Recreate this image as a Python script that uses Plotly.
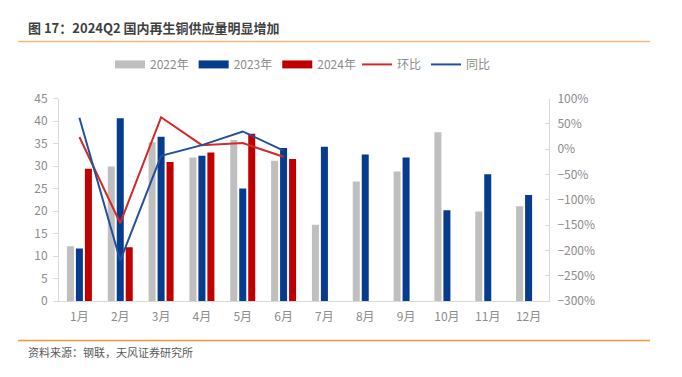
import plotly.graph_objects as go

months = ["1月", "2月", "3月", "4月", "5月", "6月", "7月", "8月", "9月", "10月", "11月", "12月"]
v2022 = [12.2, 29.9, 35.3, 31.9, 35.8, 31.2, 17.0, 26.6, 28.8, 37.5, 19.9, 21.1]
v2023 = [11.7, 40.6, 36.5, 32.3, 25.0, 34.0, 34.3, 32.6, 31.9, 20.2, 28.2, 23.6]
v2024 = [29.4, 12.0, 30.9, 33.0, 37.2, 31.6, None, None, None, None, None, None]
mom = [24, -146, 63, 8, 12, -15]     # 环比 %
yoy = [62, -220, -13, 8, 35, -3]     # 同比 %

C_GREY = "#BFBFBF"
C_BLUE = "#053C8E"
C_RED = "#C00000"
L_RED = "#D42A2A"
L_BLUE = "#22509C"
FONT = "Noto Sans CJK SC"
TICK_C = "#8C8C8C"

W, H = 682, 377
fig = go.Figure()

for name, vals, col in [("2022年", v2022, C_GREY), ("2023年", v2023, C_BLUE), ("2024年", v2024, C_RED)]:
    fig.add_trace(go.Bar(x=months, y=vals, name=name, marker=dict(color=col, line=dict(width=0)),
                         showlegend=False, hoverinfo="skip"))

fig.add_trace(go.Scatter(x=months[:6], y=mom, yaxis="y2", mode="lines", name="环比",
                         line=dict(color=L_RED, width=2), showlegend=False))
fig.add_trace(go.Scatter(x=months[:6], y=yoy, yaxis="y2", mode="lines", name="同比",
                         line=dict(color=L_BLUE, width=2), showlegend=False))

for name, col, w, lg in [("2022年", C_GREY, 8, "legend"), ("2023年", C_BLUE, 8, "legend"),
                         ("2024年", C_RED, 8, "legend"), ("环比", L_RED, 2, "legend2"),
                         ("同比", L_BLUE, 2, "legend2")]:
    fig.add_trace(go.Scatter(x=[None], y=[None], mode="lines", name=name, legend=lg,
                             line=dict(color=col, width=w), showlegend=True))

def px_x(p):
    return p / W

def px_y(p):
    return (H - p) / H

legend_common = dict(orientation="h", y=px_y(57), xanchor="left", yanchor="middle",
                     font=dict(size=12, color=TICK_C), itemwidth=30,
                     bgcolor="rgba(0,0,0,0)", traceorder="normal")

fig.update_layout(
    width=W, height=H,
    margin=dict(l=0, r=0, t=0, b=0),
    paper_bgcolor="white", plot_bgcolor="white",
    font=dict(family=FONT, size=12, color=TICK_C),
    barmode="group", bargap=0.34, bargroupgap=0.22,
    xaxis=dict(domain=[px_x(59), px_x(549)], type="category", showgrid=False,
               showline=True, linecolor="#D9D9D9", linewidth=1, ticks="",
               tickfont=dict(size=12, color=TICK_C), ticklabelstandoff=4),
    yaxis=dict(domain=[px_y(305), px_y(92.7)], range=[0, 45], dtick=5, showgrid=False,
               showline=True, linecolor="#D9D9D9", linewidth=1, ticks="outside", ticklen=5,
               tickcolor="#D9D9D9", tickfont=dict(size=12, color=TICK_C), zeroline=False,
               ticklabelstandoff=3),
    yaxis2=dict(overlaying="y", side="right", range=[-300, 100], dtick=50, ticksuffix="%",
                showgrid=False, showline=True, linecolor="#D9D9D9", linewidth=1,
                ticks="inside", ticklen=4, tickcolor="#D9D9D9",
                tickfont=dict(size=12, color=TICK_C), zeroline=False, ticklabelstandoff=5),
    legend=dict(x=px_x(110), **legend_common),
    legend2=dict(x=px_x(357), **legend_common),
    showlegend=True,
)

fig.add_annotation(text="<b>图 17：2024Q2 国内再生铜供应量明显增加</b>", xref="paper", yref="paper",
                   x=px_x(26), y=px_y(18), xanchor="left", yanchor="middle", showarrow=False,
                   font=dict(family=FONT, size=13, color="#3F3F3F"))
fig.add_annotation(text="资料来源：钢联，天风证券研究所", xref="paper", yref="paper",
                   x=px_x(26), y=px_y(358), xanchor="left", yanchor="middle", showarrow=False,
                   font=dict(family=FONT, size=11, color="#595959"))
fig.add_shape(type="line", xref="paper", yref="paper", x0=px_x(18), x1=px_x(650),
              y0=px_y(33), y1=px_y(33), line=dict(color="#F7B67A", width=1.5))
fig.add_shape(type="line", xref="paper", yref="paper", x0=px_x(18), x1=px_x(650),
              y0=px_y(346), y1=px_y(346), line=dict(color="#F5963A", width=1.5))

fig.write_html("out.html", config={"displayModeBar": False},
               post_script="document.body.style.margin='0px';")
